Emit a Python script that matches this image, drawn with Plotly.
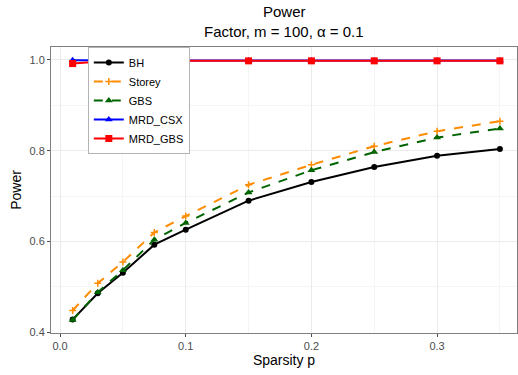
import plotly.graph_objects as go

# Sparsity levels and power of each method
sparsity = [0.01, 0.03, 0.05, 0.075, 0.1, 0.15, 0.2, 0.25, 0.3, 0.35]
power_bh = [0.428, 0.486, 0.531, 0.593, 0.626, 0.690, 0.731, 0.764, 0.789, 0.804]
power_storey = [0.448, 0.508, 0.555, 0.620, 0.656, 0.725, 0.769, 0.810, 0.843, 0.865]
power_gbs = [0.427, 0.488, 0.537, 0.604, 0.641, 0.708, 0.757, 0.797, 0.829, 0.849]
power_mrd_csx = [0.9995, 0.999, 0.999, 0.999, 0.999, 0.999, 0.999, 0.999, 0.999, 0.999]
power_mrd_gbs = [0.992, 0.996, 0.997, 0.998, 0.998, 0.998, 0.998, 0.998, 0.998, 0.998]

x_ticks = [0.0, 0.1, 0.2, 0.3]
x_tick_labels = ["0.0", "0.1", "0.2", "0.3"]
y_ticks = [0.4, 0.6, 0.8, 1.0]
y_tick_labels = ["0.4", "0.6", "0.8", "1.0"]

series = [
    ("BH", power_bh, "black", "solid", "circle", 6, 0),
    ("Storey", power_storey, "#FF8C00", "dash", "cross-thin", 5, 1.5),
    ("GBS", power_gbs, "#006400", "dash", "triangle-up", 7, 0),
    ("MRD_CSX", power_mrd_csx, "blue", "solid", "triangle-up", 7, 0),
    ("MRD_GBS", power_mrd_gbs, "red", "solid", "square", 7, 0),
]

FONT = "Liberation Sans, Arial"

fig = go.Figure()
for name, values, color, dash, symbol, size, mlw in series:
    fig.add_trace(go.Scatter(
        x=sparsity, y=values, name=name, mode="lines+markers",
        line=dict(color=color, width=2, dash=dash),
        marker=dict(symbol=symbol, size=size, color=color,
                    line=dict(width=mlw, color=color)),
    ))

axis_common = dict(
    showline=True, linecolor="#7F7F7F", linewidth=1, mirror=True,
    ticks="outside", ticklen=3, tickcolor="#4D4D4D", tickwidth=1,
    tickfont=dict(family=FONT, size=11, color="#4D4D4D"),
    showgrid=True, gridcolor="#EBEBEB", gridwidth=1,
    zeroline=False,
)

fig.update_xaxes(
    range=[-0.0072, 0.3636], tickvals=x_ticks, ticktext=x_tick_labels,
    minor=dict(tickvals=[0.05, 0.15, 0.25, 0.35], showgrid=True,
               gridcolor="#F5F5F5", gridwidth=0.5, ticks=""),
    title=dict(text="Sparsity p", standoff=2,
               font=dict(family=FONT, size=14, color="black")),
    **axis_common,
)
fig.update_yaxes(
    range=[0.3985, 1.0285], tickvals=y_ticks, ticktext=y_tick_labels,
    minor=dict(tickvals=[0.5, 0.7, 0.9], showgrid=True,
               gridcolor="#F5F5F5", gridwidth=0.5, ticks=""),
    title=dict(text="Power", standoff=4,
               font=dict(family=FONT, size=14, color="black")),
    **axis_common,
)

# Two-line title as centred annotations above the panel
for text, y_px in [("Power", 11), ("Factor, m = 100, α = 0.1", 32)]:
    fig.add_annotation(
        text=text, xref="paper", yref="paper",
        x=0.5, y=1 + (47 - y_px) / 286, xanchor="center", yanchor="middle",
        showarrow=False, font=dict(family=FONT, size=15, color="black"),
    )

fig.update_layout(
    width=518, height=375,
    margin=dict(l=51, r=1, t=47, b=42),
    paper_bgcolor="white", plot_bgcolor="white",
    legend=dict(
        x=0.079, y=1.0, xanchor="left", yanchor="top",
        bgcolor="white", bordercolor="#B3B3B3", borderwidth=1,
        font=dict(family=FONT, size=11, color="black"),
        tracegroupgap=0, itemwidth=30,
    ),
    showlegend=True,
)

fig.write_html("out.html")
